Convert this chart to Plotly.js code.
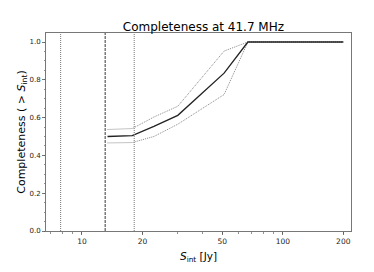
<!DOCTYPE html>
<html><head><meta charset="utf-8">
<script src="https://cdn.plot.ly/plotly-3.0.1.min.js"></script>
<style>html,body{margin:0;padding:0;background:#fff}#c{width:374px;height:272px}</style>
</head><body><div id="c"></div>
<script>
const flux = [13.4, 17.8, 22.8, 30.0, 51.0, 67.0, 100, 200];
const completeness = [0.500, 0.505, 0.554, 0.612, 0.835, 1.0, 1.0, 1.0];
const upper = [0.537, 0.542, 0.603, 0.660, 0.952, 1.0, 1.0, 1.0];
const lower = [0.466, 0.468, 0.500, 0.565, 0.722, 1.0, 1.0, 1.0];
const vlinesDotted = [7.83, 18.2];
const vlineDashed = [13.05];
const xTicks = [10, 20, 50, 100, 200];
const yTicks = [0.0, 0.2, 0.4, 0.6, 0.8, 1.0];

const font = 'DejaVu Sans, sans-serif';
const traces = [
  {x: flux, y: upper, mode: 'lines', line: {color: '#888', width: 1, dash: '1px,1px'}, hoverinfo: 'skip'},
  {x: flux, y: lower, mode: 'lines', line: {color: '#888', width: 1, dash: '1px,1px'}, hoverinfo: 'skip'},
  {x: flux, y: completeness, mode: 'lines', line: {color: '#222', width: 1.3}, hoverinfo: 'skip'}
];
const shapes = [];
vlinesDotted.forEach(v => shapes.push({type: 'line', xref: 'x', yref: 'paper', x0: v, x1: v, y0: 0, y1: 1, line: {color: '#777', width: 1, dash: '1px,1px'}}));
vlineDashed.forEach(v => shapes.push({type: 'line', xref: 'x', yref: 'paper', x0: v, x1: v, y0: 0, y1: 1, line: {color: '#666', width: 1.3, dash: '3px,1px'}}));

const layout = {
  width: 374, height: 272,
  margin: {l: 46, r: 23, t: 33, b: 41},
  paper_bgcolor: '#fff', plot_bgcolor: '#fff',
  showlegend: false,
  title: {text: 'Completeness at 41.7 MHz', font: {family: font, size: 12, color: '#000'}, x: 0.544, xanchor: 'center', y: 0.902, yanchor: 'middle'},
  xaxis: {
    type: 'log', range: [Math.log10(6.62), Math.log10(218.5)],
    tickvals: xTicks, ticktext: xTicks.map(String),
    ticks: 'outside', ticklen: 3, tickwidth: 0.8, tickcolor: '#555',
    minor: {ticks: 'outside', ticklen: 1.5, tickcolor: '#777', dtick: 'D1', showgrid: false},
    showgrid: false, zeroline: false,
    showline: true, linecolor: '#777', linewidth: 1, mirror: true,
    tickfont: {family: font, size: 7.5, color: '#222'},
    title: {text: '<i>S</i><sub>int</sub> [Jy]', font: {family: font, size: 10.5, color: '#000'}, standoff: 7}
  },
  yaxis: {
    range: [0, 1.0476],
    tickvals: yTicks, ticktext: yTicks.map(v => v.toFixed(1)),
    ticks: 'outside', ticklen: 3, tickwidth: 0.8, tickcolor: '#555',
    minor: {ticks: 'outside', ticklen: 1.5, tickcolor: '#777', dtick: 0.05, showgrid: false},
    showgrid: false, zeroline: false,
    showline: true, linecolor: '#777', linewidth: 1, mirror: true,
    tickfont: {family: font, size: 7, color: '#222'},
    title: {text: 'Completeness ( > <i>S</i><sub>int</sub>)', font: {family: font, size: 11, color: '#000'}, standoff: 1}
  },
  shapes: shapes
};
Plotly.newPlot('c', traces, layout, {displayModeBar: false, staticPlot: true});
</script>
</body></html>
